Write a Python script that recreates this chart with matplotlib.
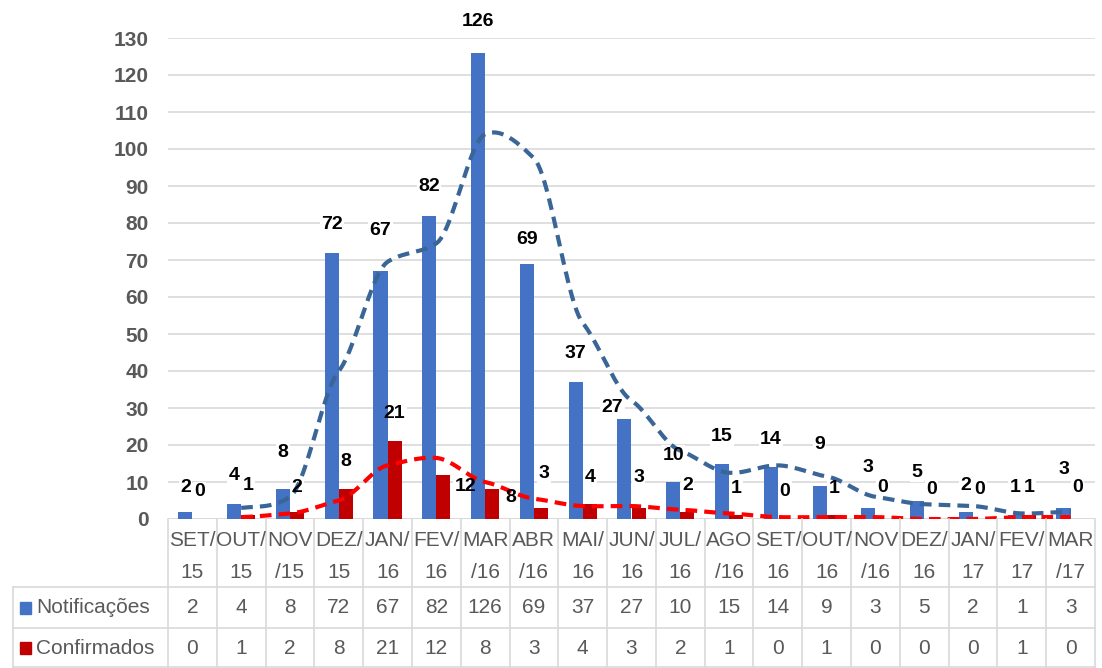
import numpy as np
import matplotlib.pyplot as plt

FONT = ['Liberation Sans Narrow', 'Liberation Sans', 'DejaVu Sans']
plt.rcParams['font.family'] = FONT

months = ["SET/\n15", "OUT/\n15", "NOV\n/15", "DEZ/\n15", "JAN/\n16", "FEV/\n16",
          "MAR\n/16", "ABR\n/16", "MAI/\n16", "JUN/\n16", "JUL/\n16", "AGO\n/16",
          "SET/\n16", "OUT/\n16", "NOV\n/16", "DEZ/\n16", "JAN/\n17", "FEV/\n17",
          "MAR\n/17"]
notificacoes = [2, 4, 8, 72, 67, 82, 126, 69, 37, 27, 10, 15, 14, 9, 3, 5, 2, 1, 3]
confirmados = [0, 1, 2, 8, 21, 12, 8, 3, 4, 3, 2, 1, 0, 1, 0, 0, 0, 1, 0]

# label nudges in pixels (dx, dy from bar top), as placed in the original
blue_dy = [24, 29, 37, 28, 41, 29, 31, 24, 29, 12, 27, 27, 28, 41, 40, 28, 26, 28, 38]
blue_dx = [0, 0, 0, 0, 0, 0, 0, 0, 0, -12, 0, 0, 0, 0, 0, 0, 0, 0, 0]
red_dy = [27, 30, 24, 28, 28, -12, -8, 34, 27, 30, 26, 27, 28, 27, 32, 29, 29, 28, 31]
red_dx = [0, 0, 0, 0, 0, 22, 19, 3, 0, 0, 0, 0, 0, 0, 0, 0, 0, 0, 0]

BLUE = '#4472c4'
RED = '#c00000'
GRAY = '#595959'
GRID = '#d9d9d9'


def moving_average(v, n=2):
    v = np.asarray(v, dtype=float)
    return np.convolve(v, np.ones(n) / n, mode='valid')


def smooth(x, y, tension=0.5, steps=24):
    # hermite curve through the points, close to excel's smoothed line
    x = np.asarray(x, dtype=float)
    y = np.asarray(y, dtype=float)
    m = np.zeros_like(y)
    m[1:-1] = tension * (y[2:] - y[:-2]) / 2
    m[0] = tension * (y[1] - y[0])
    m[-1] = tension * (y[-1] - y[-2])
    t = np.linspace(0, 1, steps)
    h00 = 2 * t**3 - 3 * t**2 + 1
    h10 = t**3 - 2 * t**2 + t
    h01 = -2 * t**3 + 3 * t**2
    h11 = t**3 - t**2
    xs, ys = [], []
    for i in range(len(x) - 1):
        xs.extend(x[i] + t * (x[i + 1] - x[i]))
        ys.extend(h00 * y[i] + h10 * m[i] + h01 * y[i + 1] + h11 * m[i + 1])
    return np.array(xs), np.array(ys)


W, H = 1102, 668
fig = plt.figure(figsize=(W / 100, H / 100), dpi=100)

x0, x1 = 168, 1095
y0, y130 = 519, 38
ax = fig.add_axes([x0 / W, 1 - y0 / H, (x1 - x0) / W, (y0 - y130) / H])
n = len(months)
x = np.arange(n)
bw = 0.29
ax.bar(x - bw / 2, notificacoes, bw, color=BLUE, zorder=2)
ax.bar(x + bw / 2, confirmados, bw, color=RED, zorder=2)

mx = x[1:]
sx, sy = smooth(mx, moving_average(notificacoes))
ax.plot(sx, sy, color='#3a6597', lw=3.0, dashes=(2.8, 1.7), zorder=3,
        dash_capstyle='butt')
sx, sy = smooth(mx, moving_average(confirmados))
ax.plot(sx, sy, color='#ff0000', lw=3.0, dashes=(2.8, 1.7), zorder=3,
        dash_capstyle='butt')

box = dict(facecolor='white', edgecolor='none', pad=1)
labels = [(x - bw / 2, notificacoes, blue_dx, blue_dy),
          (x + bw / 2, confirmados, red_dx, red_dy)]
for xs_, vals, dxs, dys in labels:
    for i in range(n):
        kw = dict(xytext=(dxs[i], dys[i]), textcoords='offset pixels',
                  ha='center', va='center', fontsize=14, fontweight='bold',
                  annotation_clip=False)
        # white patch behind the label hides the gridline, not the bars
        ax.annotate(str(vals[i]), (xs_[i], vals[i]), color='none', bbox=box,
                    zorder=1.5, **kw)
        ax.annotate(str(vals[i]), (xs_[i], vals[i]), color='black', zorder=4, **kw)

ax.set_xlim(-0.5, n - 0.5)
ax.set_ylim(0, 130)
ax.set_yticks(np.arange(0, 131, 10))
ax.yaxis.grid(True, color=GRID, lw=1.2, zorder=0)
ax.set_axisbelow(True)
ax.tick_params(axis='y', length=0, pad=14, labelsize=15, labelcolor=GRAY)
for lab in ax.get_yticklabels():
    lab.set_fontweight('bold')
ax.set_xticks([])
for s in ax.spines.values():
    s.set_visible(False)
ax.axhline(0, color=GRID, lw=1.2, zorder=1)

# data table below the plot
tab = fig.add_axes([0, 0, 1, 1])
tab.set_xlim(0, W)
tab.set_ylim(H, 0)
tab.axis('off')
cw = (x1 - x0) / n
edges = x0 + cw * np.arange(n + 1)
r0, r1, r2, r3 = 519, 587, 628, 668
for e in edges:
    tab.plot([e, e], [r0, r3], color=GRID, lw=1.2)
tab.plot([13, 13], [r1, r3], color=GRID, lw=1.2)
for yy in (r1, r2, r3 - 1):
    tab.plot([13, x1], [yy, yy], color=GRID, lw=1.2)

for i in range(n):
    cx = x0 + cw * (i + 0.5)
    top, bot = months[i].split("\n")
    tab.text(cx, 541, top, ha='center', va='center', fontsize=15, color=GRAY)
    tab.text(cx, 573, bot, ha='center', va='center', fontsize=15, color=GRAY)
    tab.text(cx, (r1 + r2) / 2, str(notificacoes[i]), ha='center', va='center',
             fontsize=15, color=GRAY)
    tab.text(cx, (r2 + r3) / 2, str(confirmados[i]), ha='center', va='center',
             fontsize=15, color=GRAY)

for (yy, col, name) in (((r1 + r2) / 2, BLUE, "Notificações"),
                        ((r2 + r3) / 2, RED, "Confirmados")):
    tab.add_patch(plt.Rectangle((20, yy - 6), 11, 12, color=col))
    tab.text(36, yy, name, ha='left', va='center', fontsize=15, color=GRAY)

fig.savefig("out.png", dpi=100)
